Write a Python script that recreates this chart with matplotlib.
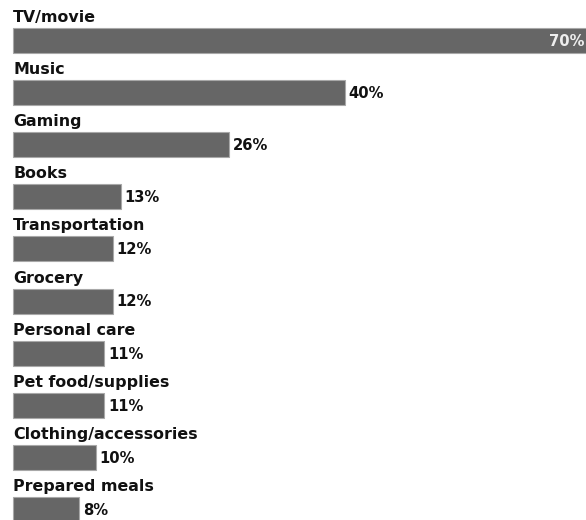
import matplotlib.pyplot as plt

# data
categories = ['TV/movie', 'Music', 'Gaming', 'Books', 'Transportation', 'Grocery',
              'Personal care', 'Pet food/supplies', 'Clothing/accessories', 'Prepared meals']
values = [70, 40, 26, 13, 12, 12, 11, 11, 10, 8]

W, H = 586, 520
fig = plt.figure(figsize=(W / 100, H / 100), dpi=100)
ax = fig.add_axes([0, 0, 1, 1])

# pixel-ish layout: x in percent, y in pixel rows
px_per_pct = 8.3
x0 = 13
ax.set_xlim(-x0 / px_per_pct, (W - x0) / px_per_pct)
ax.set_ylim(H, 0)
ax.axis('off')

row_h = 52.1
first = 40.5
bar_h = 25
pos = [first + row_h * i for i in range(len(categories))]

ax.barh(pos, values, height=bar_h, color='#666666', edgecolor='#a8a8a8', linewidth=0.8)

for i, (c, v) in enumerate(zip(categories, values)):
    y = pos[i]
    ax.text(0, y - 23, c, fontsize=11.4, fontweight='bold', color='#111111',
            va='center', ha='left')
    if i == 0:
        ax.text((W - 2 - x0) / px_per_pct, y + 1, f'{v}%', fontsize=10.6, fontweight='bold',
                color='#eeeeee', va='center', ha='right')
    else:
        ax.text(v + 0.45, y + 1, f'{v}%', fontsize=10.6, fontweight='bold',
                color='#111111', va='center', ha='left')

fig.savefig('out.png', dpi=100, facecolor='white')
